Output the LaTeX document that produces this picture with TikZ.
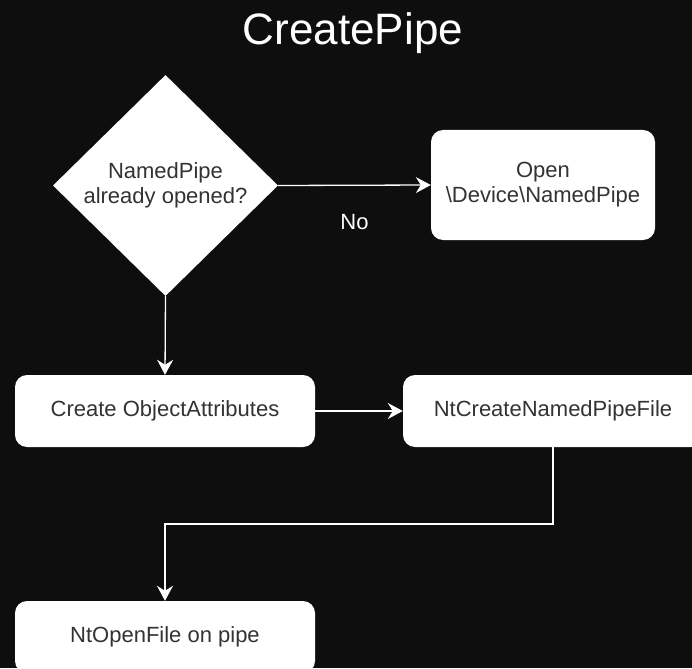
\documentclass[tikz,border=0pt]{standalone}
\usepackage{fontspec}
\setmainfont{Liberation Sans}
\usetikzlibrary{shapes.geometric,arrows.meta}
\definecolor{bg}{HTML}{0E0E0E}
\definecolor{txt}{HTML}{333333}
\begin{document}
\begin{tikzpicture}[x=1pt,y=-1pt,
  box/.style={fill=white, draw=none, rounded corners=12pt, minimum width=300pt, minimum height=72pt,
    text=txt, font=\fontsize{22}{25}\selectfont, align=center, inner sep=0pt},
  decision/.style={diamond, fill=white, draw=none, minimum width=225pt, minimum height=221pt,
    text=txt, font=\fontsize{22}{25}\selectfont, align=center, inner sep=0pt},
  arr/.style={draw=white, line width=1.3pt, -{Stealth[length=15pt,width=16pt,inset=5pt]}},
  lbl/.style={text=white, font=\fontsize{22}{25}\selectfont}]
\fill[bg] (0,0) rectangle (692,668);
\useasboundingbox (0,0) rectangle (692,668);
\clip (0,0) rectangle (692,668);
\node[text=white, font=\fontsize{44}{48}\selectfont] (title) at (353,33) {CreatePipe};
\node[decision] (dec) at (165.5,185.5) {NamedPipe\\already opened?};
\node[box, minimum width=224pt, minimum height=110pt] (open) at (543,185) {Open\\\textbackslash Device\textbackslash NamedPipe};
\node[box] (create) at (165,411) {Create ObjectAttributes};
\node[box] (ntc) at (553,411) {NtCreateNamedPipeFile};
\node[box] (ntopen) at (165,637) {NtOpenFile on pipe};
\draw[arr] (dec.east) -- (open.west) node[midway, lbl, yshift=-37pt] (no) {No};
\draw[arr] (dec.south) -- (create.north);
\draw[arr] (create.east) -- (ntc.west);
\draw[arr] (ntc.south) -- (ntc.south |- 0,524) -| (ntopen.north);
\end{tikzpicture}
\end{document}
